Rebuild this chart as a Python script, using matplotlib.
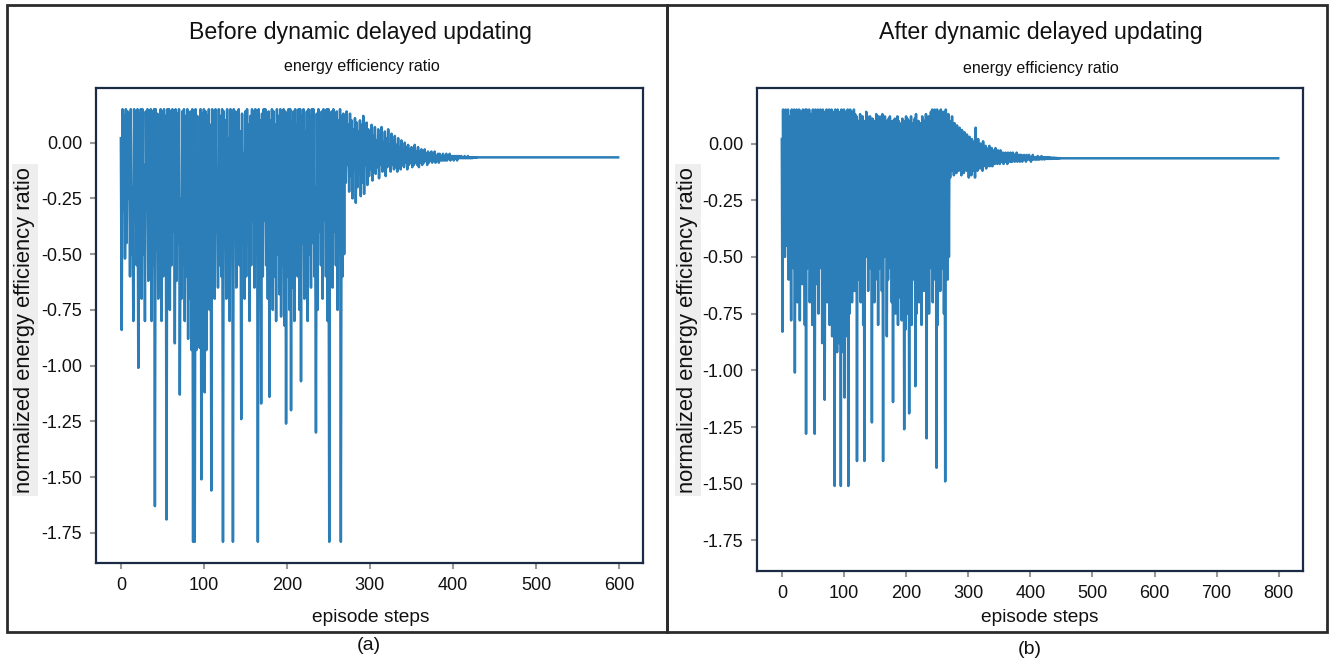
import numpy as np
import matplotlib
matplotlib.use("Agg")
import matplotlib.pyplot as plt
from matplotlib.patches import Rectangle

plt.rcParams['font.family'] = ['Liberation Sans', 'DejaVu Sans']

# ---------------- data: panel (a) before dynamic delayed updating ----------------
a_highs = [
    0.02, 0.15, 0.12, 0.15, 0.14, 0.13, 0.15, -0.20, 0.15, 0.14,
    0.15, 0.13, 0.15, 0.15, -0.10, 0.14, 0.15, 0.12, 0.15, 0.14,
    0.15, 0.15, 0.13, -0.30, 0.15, 0.14, 0.15, 0.12, 0.15, 0.15,
    0.14, 0.15, 0.10, 0.15, 0.13, 0.15, -0.25, 0.14, 0.15, 0.12,
    0.15, 0.05, 0.14, 0.15, 0.10, 0.15, 0.12, -0.40, 0.15, 0.13,
    0.15, 0.14, 0.12, 0.15, 0.08, 0.15, 0.14, 0.15, -0.20, 0.15,
    0.12, 0.15, 0.14, 0.10, 0.15, 0.02, 0.15, 0.13, 0.15, 0.14,
    0.10, 0.15, 0.05, 0.13, -0.05, 0.14, 0.15, 0.08, 0.12, 0.15,
    0.14, 0.15, 0.12, 0.15, 0.10, 0.13, 0.15, 0.15, -0.10, 0.14,
    0.10, 0.15, 0.14, 0.08, 0.15, 0.12, 0.15, -0.30, 0.15, 0.14,
    0.12, 0.15, 0.15, 0.10, 0.14, 0.15, 0.08, 0.15, 0.15, 0.12,
    0.15, 0.05, 0.14, 0.15, 0.12, 0.15, 0.15, -0.20, 0.13, 0.15,
    0.10, 0.14, 0.15, 0.12, 0.15, 0.15, 0.08, 0.14, 0.15, 0.12,
    0.14, 0.10, 0.15, 0.12, 0.13,
]
a_lows = [
    -0.84, -0.30, -0.52, -0.45, -0.25, -0.60, -0.50, -0.80, -0.35, -0.55,
    -1.01, -0.40, -0.70, -0.50, -0.80, -0.30, -0.62, -0.45, -0.80, -0.55,
    -1.63, -0.48, -0.70, -0.35, -0.80, -0.60, -0.50, -1.69, -0.45, -0.75,
    -0.55, -0.40, -0.90, -0.62, -0.45, -1.13, -0.70, -0.55, -0.80, -0.60,
    -0.88, -0.70, -0.93, -1.79, -1.79, -0.93, -0.85, -0.92, -1.51, -0.80,
    -1.12, -0.93, -0.60, -0.75, -1.56, -0.50, -0.70, -0.40, -0.65, -0.55,
    -0.60, -1.79, -0.45, -0.70, -0.35, -0.80, -0.50, -1.79, -0.40, -0.65,
    -0.30, -0.55, -1.24, -0.45, -0.70, -0.60, -0.40, -0.80, -0.55, -0.35,
    -0.65, -0.50, -1.79, -0.45, -1.17, -0.60, -0.35, -0.55, -0.70, -1.14,
    -0.55, -0.75, -0.60, -0.80, -0.50, -0.68, -0.78, -0.55, -0.82, -1.26,
    -0.60, -0.75, -1.20, -0.65, -0.80, -0.55, -0.60, -0.75, -1.07, -0.45,
    -0.70, -0.55, -0.80, -0.50, -0.65, -0.45, -0.60, -1.30, -0.75, -0.40,
    -0.55, -0.70, -0.35, -0.60, -0.80, -1.79, -0.50, -0.65, -0.40, -0.55,
    -0.75, -0.45, -1.79, -0.60, -0.50,
]
a_tail = [
    0.12, -0.18, 0.14, -0.10, 0.08, -0.22, 0.13, -0.15, 0.10, -0.25,
    0.06, -0.12, 0.11, -0.27, 0.09, -0.20, 0.05, -0.14, 0.10, -0.24,
    0.08, -0.18, 0.12, -0.23, 0.04, -0.10, 0.09, -0.19, 0.06, -0.15,
    0.02, -0.12, 0.08, -0.17, 0.03, -0.09, 0.07, -0.14, 0.01, -0.11,
    0.06, -0.16, 0.03, -0.10, 0.07, -0.13, 0.00, -0.09, 0.05, -0.15,
    0.02, -0.11, 0.06, -0.08, -0.01, -0.13, 0.04, -0.10, 0.01, -0.12,
    0.03, -0.11, -0.01, -0.13, 0.02, -0.09, -0.02, -0.12, 0.01, -0.10,
    -0.03, -0.11, 0.00, -0.09, -0.02, -0.12, -0.01, -0.10, -0.03, -0.09,
    -0.02, -0.11, -0.03, -0.10, -0.01, -0.09, -0.04, -0.10, -0.02, -0.11,
    -0.04, -0.09, -0.03, -0.10, -0.05, -0.09, -0.03, -0.08, -0.05, -0.10,
    -0.04, -0.09, -0.05, -0.08, -0.04, -0.09, -0.05, -0.08, -0.04, -0.09,
    -0.06, -0.08, -0.05, -0.09, -0.05, -0.08, -0.06, -0.08, -0.05, -0.08,
    -0.06, -0.08, -0.05, -0.08, -0.06, -0.07, -0.05, -0.08, -0.06, -0.07,
    -0.06, -0.08, -0.06, -0.07, -0.06, -0.08, -0.06, -0.07, -0.06, -0.07,
    -0.06, -0.07, -0.065, -0.07, -0.06, -0.07, -0.065, -0.07, -0.06, -0.07,
    -0.065, -0.07, -0.065, -0.07, -0.065, -0.068, -0.065, -0.068, -0.065, -0.068,
]
a_flat_value = -0.066
a_total_steps = 600

# ---------------- data: panel (b) after dynamic delayed updating ----------------
b_highs = [
    0.02, 0.15, 0.13, 0.15, 0.14, 0.15, 0.12, -0.25, 0.15, 0.14,
    0.15, 0.14, 0.15, 0.13, 0.15, -0.15, 0.14, 0.15, 0.12, 0.15,
    0.15, 0.14, 0.15, -0.30, 0.13, 0.15, 0.14, 0.15, 0.12, 0.15,
    0.14, 0.15, 0.12, 0.15, 0.14, -0.20, 0.15, 0.13, 0.15, 0.12,
    0.15, 0.10, 0.14, 0.15, 0.12, 0.15, -0.35, 0.14, 0.15, 0.13,
    0.15, 0.14, 0.12, 0.15, 0.10, 0.15, 0.14, -0.25, 0.15, 0.13,
    0.12, 0.08, 0.10, 0.13, 0.06, 0.12, -0.10, 0.10, 0.14, 0.12,
    0.10, 0.12, 0.06, 0.11, -0.05, 0.10, 0.13, 0.08, 0.12, 0.10,
    0.12, 0.13, 0.09, 0.12, 0.10, -0.15, 0.11, 0.12, 0.08, 0.10,
    0.10, 0.11, 0.07, 0.12, 0.10, 0.09, -0.20, 0.11, 0.10, 0.08,
    0.12, 0.11, 0.06, 0.10, 0.12, -0.10, 0.09, 0.11, 0.13, 0.08,
    0.10, 0.05, 0.09, 0.12, -0.15, 0.10, 0.13, 0.08, 0.12, 0.11,
    0.14, 0.15, 0.12, 0.15, 0.10, 0.15, 0.13, 0.14, 0.15, 0.12,
    0.14, 0.10, 0.15, 0.12, 0.13,
]
b_lows = [
    -0.83, -0.30, -0.50, -0.45, -0.25, -0.60, -0.50, -0.78, -0.35, -0.55,
    -1.01, -0.40, -0.70, -0.50, -0.78, -0.30, -0.62, -0.45, -0.80, -1.28,
    -0.55, -0.48, -0.70, -0.35, -0.80, -0.60, -1.28, -0.62, -0.45, -0.75,
    -0.55, -0.40, -0.88, -0.62, -1.13, -0.50, -0.70, -0.55, -0.80, -0.60,
    -0.85, -0.70, -1.51, -0.90, -0.92, -0.80, -0.88, -1.51, -0.75, -0.92,
    -1.12, -0.85, -0.60, -1.51, -0.75, -0.50, -0.70, -0.40, -0.65, -0.55,
    -1.40, -0.60, -0.45, -0.70, -0.35, -0.80, -1.40, -0.50, -0.40, -0.65,
    -0.30, -0.55, -1.23, -0.45, -0.70, -0.60, -0.40, -0.80, -0.55, -0.35,
    -0.65, -1.40, -0.50, -0.45, -0.85, -0.60, -0.35, -0.55, -0.70, -1.14,
    -0.55, -0.75, -0.60, -0.80, -0.50, -0.68, -0.78, -0.55, -1.26, -0.82,
    -0.60, -0.75, -1.19, -0.65, -0.80, -0.55, -0.60, -1.07, -0.75, -0.45,
    -0.70, -0.55, -0.80, -0.50, -0.65, -0.45, -1.30, -0.60, -0.75, -0.40,
    -0.55, -0.70, -0.35, -0.60, -1.43, -0.80, -0.50, -0.65, -0.40, -0.55,
    -0.75, -1.49, -0.45, -0.60, -0.50,
]
b_tail = [
    0.10, -0.15, 0.08, -0.12, 0.12, -0.10, 0.06, -0.14, 0.09, -0.11,
    0.05, -0.13, 0.08, -0.09, 0.04, -0.12, 0.07, -0.10, 0.03, -0.14,
    0.06, -0.11, 0.02, -0.13, 0.05, -0.09, 0.01, -0.12, 0.04, -0.10,
    0.00, -0.15, 0.03, -0.09, -0.01, -0.14, 0.02, -0.10, -0.02, -0.12,
    0.01, -0.15, 0.07, -0.09, -0.01, -0.12, 0.02, -0.10, -0.02, -0.11,
    0.00, -0.09, -0.03, -0.12, 0.01, -0.10, -0.03, -0.09, -0.01, -0.11,
    -0.02, -0.10, -0.03, -0.09, -0.01, -0.10, -0.04, -0.09, -0.02, -0.10,
    -0.03, -0.08, -0.04, -0.09, -0.02, -0.08, -0.04, -0.09, -0.03, -0.08,
    -0.04, -0.09, -0.03, -0.08, -0.05, -0.08, -0.04, -0.09, -0.05, -0.08,
    -0.04, -0.08, -0.05, -0.09, -0.04, -0.07, -0.05, -0.08, -0.04, -0.08,
    -0.05, -0.08, -0.04, -0.07, -0.05, -0.08, -0.05, -0.07, -0.04, -0.08,
    -0.05, -0.07, -0.05, -0.08, -0.05, -0.07, -0.05, -0.08, -0.06, -0.07,
    -0.05, -0.07, -0.06, -0.08, -0.05, -0.07, -0.06, -0.07, -0.05, -0.07,
    -0.06, -0.08, -0.06, -0.07, -0.05, -0.07, -0.06, -0.07, -0.06, -0.07,
    -0.06, -0.07, -0.055, -0.07, -0.06, -0.07, -0.06, -0.068, -0.055, -0.07,
    -0.06, -0.068, -0.06, -0.07, -0.06, -0.068, -0.06, -0.066, -0.06, -0.068,
    -0.06, -0.066, -0.062, -0.068, -0.062, -0.066, -0.063, -0.067, -0.062, -0.066,
    -0.063, -0.066, -0.063, -0.066, -0.064, -0.066, -0.064, -0.066, -0.064, -0.065,
]
b_flat_value = -0.065
b_total_steps = 800

titles = ["Before dynamic delayed updating", "After dynamic delayed updating"]
subtitle = "energy efficiency ratio"
ylabel = "normalized energy efficiency ratio"
xlabel = "episode steps"
panel_labels = ["(a)", "(b)"]
yticks = [0.00, -0.25, -0.50, -0.75, -1.00, -1.25, -1.50, -1.75]
a_xticks = [0, 100, 200, 300, 400, 500, 600]
b_xticks = [0, 100, 200, 300, 400, 500, 600, 700, 800]


def build_series(highs, lows, tail, flat_value, total):
    dense = np.empty(len(highs) + len(lows))
    dense[0::2] = highs
    dense[1::2] = lows
    vals = np.concatenate([dense, np.array(tail)])
    flat = np.full(total - len(vals), flat_value)
    return np.concatenate([vals, flat])


a_vals = build_series(a_highs, a_lows, a_tail, a_flat_value, a_total_steps)
b_vals = build_series(b_highs, b_lows, b_tail, b_flat_value, b_total_steps)

W, H = 1333, 663
fig = plt.figure(figsize=(W / 100, H / 100), dpi=100)


def fx(px):
    return px / W


def fy(py):
    return 1 - py / H


line_color = '#1f77b4'
spine_color = '#1c2b45'

axes_px = [(96, 88, 643, 563), (757, 88, 1303, 571)]
data = [(a_vals, a_xticks), (b_vals, b_xticks)]
title_pos = [(360, 33), (1041, 33)]
sub_pos = [(362, 67), (1041, 69)]
xlab_pos = [(371, 617), (1040, 618)]
ylab_pos = [(25, 330), (688, 330)]
panel_pos = [(369, 645), (1030, 650)]

for k in range(2):
    x0, y0, x1, y1 = axes_px[k]
    ax = fig.add_axes([fx(x0), fy(y1), fx(x1 - x0), (y1 - y0) / H])
    vals, xt = data[k]
    steps = np.arange(len(vals))
    ax.plot(steps, vals, color=line_color, lw=1.8, alpha=0.95)
    ax.set_xlim(-0.05 * (len(vals) - 1), 1.05 * (len(vals) - 1))
    ax.set_ylim(-1.885, 0.245)
    ax.set_yticks(yticks)
    ax.set_yticklabels([f"{v:.2f}" for v in yticks])
    ax.set_xticks(xt)
    ax.tick_params(axis='both', labelsize=13, length=4, width=1.5,
                   color='#999999', direction='out', pad=6, labelcolor='#111111')
    for s in ax.spines.values():
        s.set_color(spine_color)
        s.set_linewidth(1.6)

    fig.text(fx(title_pos[k][0]), fy(title_pos[k][1]), titles[k], fontsize=16.7,
             ha='center', va='center', color='#111111')
    fig.text(fx(sub_pos[k][0]), fy(sub_pos[k][1]), subtitle, fontsize=11.5,
             ha='center', va='center', color='#111111')
    fig.text(fx(xlab_pos[k][0]), fy(xlab_pos[k][1]), xlabel, fontsize=13.8,
             ha='center', va='center', color='#111111')
    fig.text(fx(ylab_pos[k][0]), fy(ylab_pos[k][1]), ylabel, fontsize=15.8,
             ha='center', va='center', rotation=90, color='#111111',
             bbox=dict(facecolor='#eeeeee', edgecolor='none', pad=2))
    fig.text(fx(panel_pos[k][0]), fy(panel_pos[k][1]), panel_labels[k], fontsize=14,
             ha='center', va='center', color='#111111')

# outer frames of the two panels
for (bx0, by0, bx1, by1) in [(7, 5, 667, 632), (667, 5, 1327, 632)]:
    fig.patches.append(Rectangle((fx(bx0), fy(by1)), fx(bx1 - bx0), (by1 - by0) / H,
                                 transform=fig.transFigure, fill=False,
                                 edgecolor='#2b2b2b', linewidth=2.0))

fig.savefig("out.png", dpi=100)
